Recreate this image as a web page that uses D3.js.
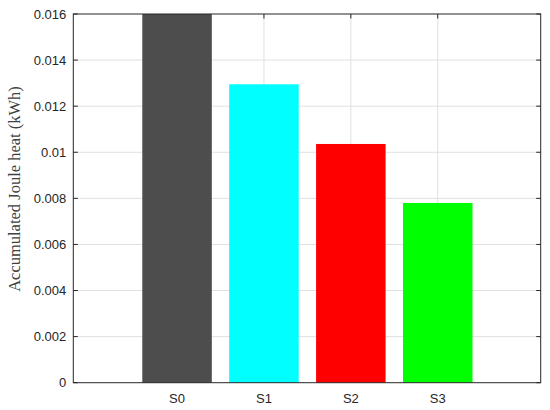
<!DOCTYPE html>
<html><head><meta charset="utf-8">
<script src="https://cdn.jsdelivr.net/npm/d3@7"></script>
<style>body{margin:0;background:#fff}</style>
</head><body>
<svg id="c" width="550" height="410"></svg>
<script>
const categories = ["S0", "S1", "S2", "S3"];
const values = [0.016, 0.01295, 0.01036, 0.0078];
const colors = ["#4d4d4d", "#00ffff", "#ff0000", "#00ff00"];
const yTicks = [0, 0.002, 0.004, 0.006, 0.008, 0.01, 0.012, 0.014, 0.016];
const yTickLabels = ["0", "0.002", "0.004", "0.006", "0.008", "0.01", "0.012", "0.014", "0.016"];
const gridXTicks = [2, 3, 4];
const yLabel = "Accumulated Joule heat (kWh)";

const svg = d3.select("#c");
const L = 73.3, R = 540.7, T = 14, B = 382.7;

const y = d3.scaleLinear().domain([0, 0.016]).range([B, T]);
const x = d3.scaleLinear().domain([-0.194, 5.185]).range([L, R]);
const barW = 0.8;

// grid
const grid = svg.append("g").attr("stroke", "#e0e0e0").attr("stroke-width", 1);
grid.selectAll("line.h").data(yTicks.slice(1, -1)).join("line").attr("class", "h")
  .attr("x1", L).attr("x2", R).attr("y1", d => y(d)).attr("y2", d => y(d));
grid.selectAll("line.v").data(gridXTicks).join("line").attr("class", "v")
  .attr("x1", d => x(d)).attr("x2", d => x(d)).attr("y1", T).attr("y2", B);

// bars
svg.selectAll("rect.bar").data(values).join("rect").attr("class", "bar")
  .attr("x", (d, i) => x(i + 1 - barW / 2))
  .attr("width", (d, i) => x(i + 1 + barW / 2) - x(i + 1 - barW / 2))
  .attr("y", d => y(d)).attr("height", d => y(0) - y(d))
  .attr("fill", (d, i) => colors[i]);

// axes box
const ax = "#262626";
svg.append("rect").attr("x", L).attr("y", T).attr("width", R - L).attr("height", B - T)
  .attr("fill", "none").attr("stroke", ax).attr("stroke-width", 1);

// ticks (inward)
const tk = svg.append("g").attr("stroke", ax).attr("stroke-width", 1);
tk.selectAll("line.l").data(yTicks).join("line").attr("class", "l")
  .attr("x1", L).attr("x2", L + 4.5).attr("y1", d => y(d)).attr("y2", d => y(d));
tk.selectAll("line.r").data(yTicks).join("line").attr("class", "r")
  .attr("x1", R).attr("x2", R - 4.5).attr("y1", d => y(d)).attr("y2", d => y(d));
tk.selectAll("line.t").data(gridXTicks).join("line").attr("class", "t")
  .attr("x1", d => x(d)).attr("x2", d => x(d)).attr("y1", T).attr("y2", T + 4.5);

// y tick labels
svg.append("g").selectAll("text").data(yTicks).join("text")
  .attr("x", L - 7).attr("y", d => y(d)).attr("dy", "0.36em")
  .attr("text-anchor", "end")
  .attr("font-family", "Liberation Sans, Arial, sans-serif").attr("font-size", 13)
  .attr("fill", "#262626")
  .text((d, i) => yTickLabels[i]);

// x labels
svg.append("g").selectAll("text").data(categories).join("text")
  .attr("x", (d, i) => x(i + 1)).attr("y", B + 20.5)
  .attr("text-anchor", "middle")
  .attr("font-family", "Liberation Sans, Arial, sans-serif").attr("font-size", 13)
  .attr("fill", "#262626")
  .text(d => d);

// y label
svg.append("text")
  .attr("transform", `translate(20,189) rotate(-90)`)
  .attr("text-anchor", "middle")
  .attr("font-family", "Liberation Serif, DejaVu Serif, serif").attr("font-size", 16.5)
  .attr("fill", "#404040")
  .text(yLabel);
</script>
</body></html>
